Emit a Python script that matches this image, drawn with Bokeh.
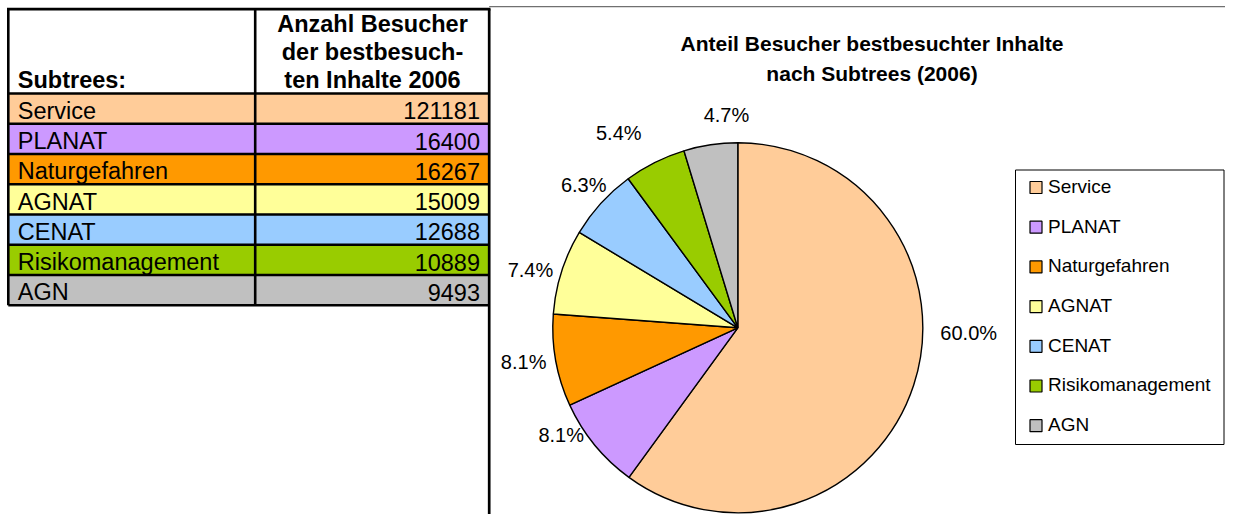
import math
from bokeh.plotting import figure
from bokeh.models import Range1d, ColumnDataSource
from bokeh.embed import file_html
from bokeh.resources import INLINE
from bokeh.core.properties import value

# ---------------- data ----------------
subtrees = ["Service", "PLANAT", "Naturgefahren", "AGNAT", "CENAT", "Risikomanagement", "AGN"]
visitors = [121181, 16400, 16267, 15009, 12688, 10889, 9493]
colors = ["#FFCC99", "#CC99FF", "#FF9900", "#FFFF99", "#99CCFF", "#99CC00", "#C0C0C0"]
header_left = "Subtrees:"
header_right = ["Anzahl Besucher", "der bestbesuch-", "ten Inhalte 2006"]
title_lines = ["Anteil Besucher bestbesuchter Inhalte", "nach Subtrees (2006)"]

# ---------------- layout (pixels) ----------------
W, H = 1225, 514
FONT = value("Liberation Sans")
TXT_DY = 8.0  # vertical correction for text placement


def Y(py):
    return H - py


def TY(py):
    return H - py + TXT_DY


TX0, TX1, TX2 = 7.8, 254.7, 488.7
T_TOP, T_HEAD = 8.7, 93.0
ROW_H = 30.24
CX, CY, R = 737.3, 327.3, 185.0
LABEL_SHIFT = [16.5, -7.9, -0.9, 2.3, -0.3, 4.9, -5.4]
LABEL_R = [231, 207, 217, 215, 209.5, 227.6, 212.3]

p = figure(width=W, height=H, output_backend="svg", toolbar_location=None,
           x_axis_location=None, y_axis_location=None, min_border=0,
           x_range=Range1d(0, W), y_range=Range1d(0, H),
           outline_line_color=None, background_fill_color="white",
           border_fill_color="white")
p.xgrid.visible = False
p.ygrid.visible = False
p.grid.visible = False

n = len(subtrees)

# ---------------- table ----------------
row_tops = [T_HEAD + i * ROW_H for i in range(n)]
tsrc = ColumnDataSource(dict(
    left=[TX0] * n, right=[TX2] * n,
    top=[Y(t) for t in row_tops], bottom=[Y(t + ROW_H) for t in row_tops],
    color=colors,
    name_x=[17.3] * n, num_x=[479.5] * n,
    text_y=[TY(t + 25.3) for t in row_tops],
    name=subtrees, num=[str(v) for v in visitors],
))
p.quad(left="left", right="right", top="top", bottom="bottom", fill_color="color",
       line_color=None, source=tsrc)
p.text(x="name_x", y="text_y", text="name", source=tsrc, text_font=FONT,
       text_font_size="23.5px", text_color="black", text_baseline="alphabetic",
       text_align="left")
p.text(x="num_x", y="text_y", text="num", source=tsrc, text_font=FONT,
       text_font_size="23.5px", text_color="black", text_baseline="alphabetic",
       text_align="right")

p.text(x=[17.3], y=[TY(87.3)], text=[header_left], text_font=FONT, text_font_style="bold",
       text_font_size="23.5px", text_baseline="alphabetic", text_align="left")
p.text(x=[372] * 3, y=[TY(31.7), TY(59.3), TY(87.3)], text=header_right, text_font=FONT,
       text_font_style="bold", text_font_size="23.5px", text_baseline="alphabetic",
       text_align="center")

bottom = T_HEAD + n * ROW_H
hx0 = [TX0] * (n + 1)
hx1 = [TX2] * (n + 1)
hy = [Y(T_HEAD + i * ROW_H) for i in range(n + 1)]
p.segment(x0=hx0, y0=hy, x1=hx1, y1=hy, line_color="black", line_width=2.4)
p.segment(x0=[TX0 - 1.3], y0=[Y(T_TOP)], x1=[TX2 + 1.3], y1=[Y(T_TOP)],
          line_color="black", line_width=2.7)
p.segment(x0=[TX0, TX1], y0=[Y(T_TOP), Y(T_TOP)], x1=[TX0, TX1], y1=[Y(bottom), Y(bottom)],
          line_color="black", line_width=2.6)
p.segment(x0=[TX2], y0=[Y(T_TOP)], x1=[TX2], y1=[Y(H + 10)], line_color="black", line_width=2.7)
p.segment(x0=[TX2], y0=[Y(6.2)], x1=[W + 10], y1=[Y(6.2)], line_color="#707070", line_width=1.2)

# ---------------- pie ----------------
total = float(sum(visitors))
fracs = [v / total for v in visitors]
starts, ends, mids = [], [], []
a = math.pi / 2
for f in fracs:
    a_end = a - f * 2 * math.pi
    starts.append(a_end)
    ends.append(a)
    mids.append((a + a_end) / 2)
    a = a_end
psrc = ColumnDataSource(dict(x=[CX] * n, y=[Y(CY)] * n, start=starts, end=ends, color=colors))
p.wedge(x="x", y="y", radius=R, start_angle="start", end_angle="end", fill_color="color",
        line_color="black", line_width=1.4, source=psrc)

lx, ly, lt = [], [], []
for i in range(n):
    ang = mids[i] + math.radians(LABEL_SHIFT[i])
    lx.append(CX + LABEL_R[i] * math.cos(ang))
    ly.append(Y(CY) + LABEL_R[i] * math.sin(ang) - 7.2 + TXT_DY)
    lt.append(f"{fracs[i] * 100:.1f}%")
p.text(x=lx, y=ly, text=lt, text_font=FONT, text_font_size="20px", text_color="black",
       text_baseline="alphabetic", text_align="center")

# ---------------- legend ----------------
LB_L, LB_T, LB_R, LB_B = 1015, 169.5, W - 1.5, 444
p.quad(left=[LB_L], right=[LB_R], top=[Y(LB_T)], bottom=[Y(LB_B)], fill_color="white",
       line_color="black", line_width=1)
item_y = [187 + i * 39.7 for i in range(n)]
lsrc = ColumnDataSource(dict(x=[1035.5] * n, y=[Y(v) for v in item_y], color=colors,
                             tx=[1047.5] * n, ty=[TY(v + 6.8) for v in item_y], name=subtrees))
p.rect(x="x", y="y", width=12, height=12, fill_color="color", line_color="black",
       line_width=1.2, source=lsrc)
p.text(x="tx", y="ty", text="name", source=lsrc, text_font=FONT, text_font_size="19px",
       text_color="black", text_baseline="alphabetic", text_align="left")

# ---------------- title ----------------
p.text(x=[871.5, 871.5], y=[TY(50.5), TY(80.5)], text=title_lines, text_font=FONT,
       text_font_style="bold", text_font_size="21px", text_color="black",
       text_baseline="alphabetic", text_align="center")

open("out.html", "w").write(file_html(p, INLINE))
